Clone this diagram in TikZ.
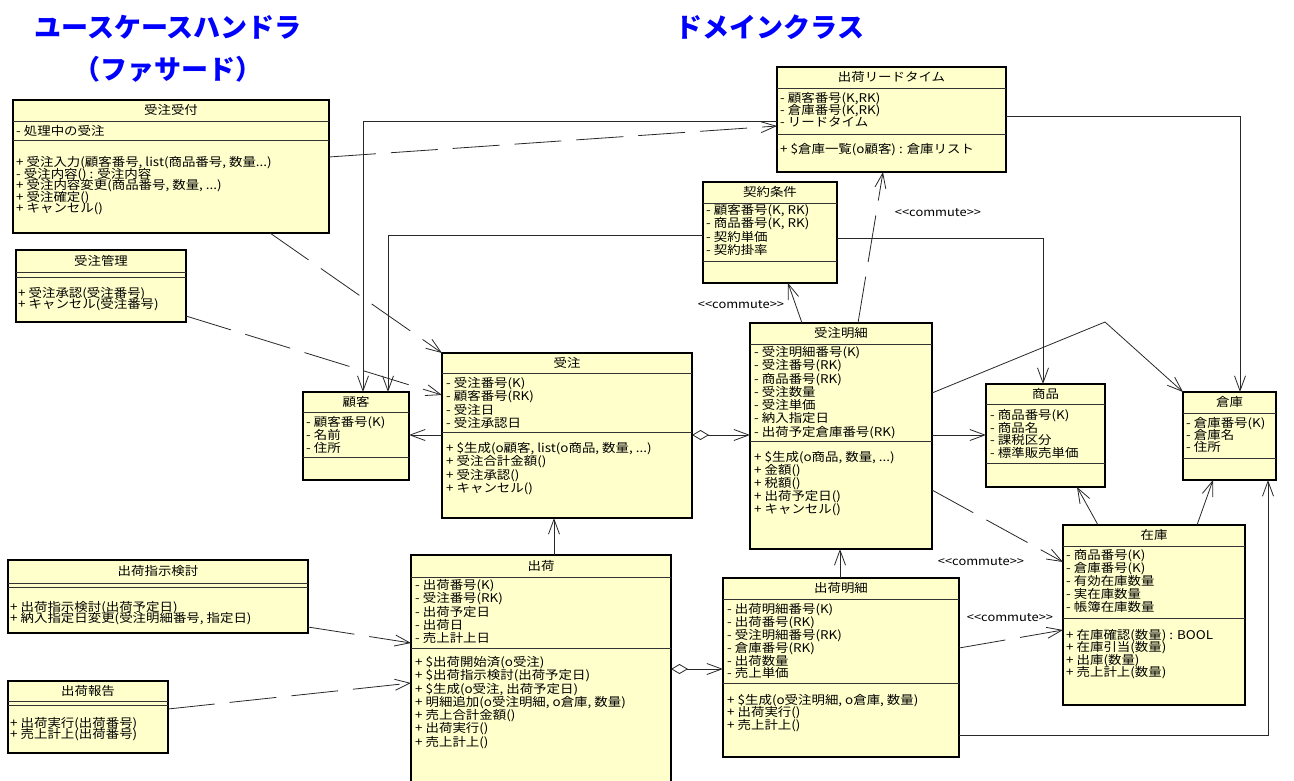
\documentclass[tikz,border=0pt]{standalone}
\usepackage{fontspec}
\setmainfont{Noto Sans CJK JP}
\newfontfamily\boxfont[FakeStretch=1.12]{Noto Sans CJK JP}
\usetikzlibrary{arrows.meta,calc}
\definecolor{boxfill}{RGB}{255,255,204}
\definecolor{titleblue}{RGB}{0,0,255}
\definecolor{lineclr}{RGB}{40,40,40}
\newcommand\tdots{...}

\newcommand\umlbox[8]{%
  \node[classbox, minimum width={(#4-#2)*1pt}, minimum height={(#5-#3)*1pt}] (#1) at (#2,#3) {};
  \draw[divline] (#2,#6) -- (#4,#6);
  \draw[divline] (#2,#7) -- (#4,#7);
  \node[txt, anchor=base] (#1-t) at ({(#2+#4)/2},{(#3+#6)/2+4.4}) {#8};
}
\newcommand\umllines[5]{%
  \foreach \myline [count=\idx] in {#5} {
    \node[txt] (#1\idx) at (#2,{#3+4.4+(\idx-1)*#4}) {\myline};
  }
}

\begin{document}
\begin{tikzpicture}[x=1pt,y=-1pt,
  classbox/.style={draw=black, fill=boxfill, line width=1.2pt, anchor=north west, inner sep=0pt, outer sep=0pt},
  divline/.style={draw=black!80, line width=0.9pt},
  txt/.style={anchor=base west, inner sep=0pt, font=\boxfont\fontsize{12}{13}\selectfont},
  heading/.style={anchor=base, inner sep=0pt, text=titleblue, font=\fontsize{27}{30}\selectfont\bfseries},
  lbl/.style={inner sep=0pt, font=\boxfont\fontsize{11.5}{12}\selectfont},
  tip/.style={-{Straight Barb[length=15pt,width=11pt,line width=0.8pt]}},
  assoc/.style={draw=lineclr, line width=0.8pt, tip},
  dep/.style={assoc, dash pattern=on 47pt off 15pt},
  agg/.style={draw=lineclr, line width=0.8pt, {Diamond[open,length=17pt,width=10pt,line width=0.8pt]}-{Straight Barb[length=15pt,width=11pt,line width=0.8pt]}}
]
\clip (0,0) rectangle (1294,780);
\fill[white] (0,0) rectangle (1294,780);

% headings
\node[heading] (h1) at (168,37) {ユースケースハンドラ};
\node[heading] (h2) at (168,79) {（ファサード）};
\node[heading] (h3) at (770,37) {ドメインクラス};

% use case handlers
\umlbox{uketsuke}{13}{100}{329}{233}{121}{140}{受注受付}
\umllines{uketsuke-a}{16}{131}{12}{{- 処理中の受注}}
\umllines{uketsuke-o}{16}{162}{11.6}{{+ 受注入力(顧客番号, list(商品番号, 数量\tdots)},{- 受注内容() : 受注内容},{+ 受注内容変更(商品番号, 数量, \tdots)},{+ 受注確定()},{+ キャンセル()}}

\umlbox{kanri}{16}{250}{186}{322}{272}{277}{受注管理}
\umllines{kanri-o}{18}{293}{11.3}{{+ 受注承認(受注番号)},{+ キャンセル(受注番号)}}

\umlbox{shiji}{8}{560}{308}{633}{583}{587}{出荷指示検討}
\umllines{shiji-o}{10}{607}{11}{{+ 出荷指示検討(出荷予定日)},{+ 納入指定日変更(受注明細番号, 指定日)}}

\umlbox{hokoku}{8}{681}{168}{753}{701}{705}{出荷報告}
\umllines{hokoku-o}{10}{723}{10.8}{{+ 出荷実行(出荷番号)},{+ 売上計上(出荷番号)}}

% domain classes
\umlbox{leadtime}{777}{67}{1006}{172}{88}{134}{出荷リードタイム}
\umllines{leadtime-a}{780}{98}{12}{{- 顧客番号(K,RK)},{- 倉庫番号(K,RK)},{- リードタイム}}
\umllines{leadtime-o}{780}{149}{12}{{+ \$倉庫一覧(o顧客) : 倉庫リスト}}

\umlbox{keiyaku}{703}{182}{837}{283}{203}{261}{契約条件}
\umllines{keiyaku-a}{706}{210}{13.3}{{- 顧客番号(K, RK)},{- 商品番号(K, RK)},{- 契約単価},{- 契約掛率}}

\umlbox{kokyaku}{303}{392}{409}{480}{412}{457}{顧客}
\umllines{kokyaku-a}{306}{422}{13}{{- 顧客番号(K)},{- 名前},{- 住所}}

\umlbox{juchu}{442}{353}{692}{518}{373}{432}{受注}
\umllines{juchu-a}{446}{383}{13.3}{{- 受注番号(K)},{- 顧客番号(RK)},{- 受注日},{- 受注承認日}}
\umllines{juchu-o}{446}{448}{13.3}{{+ \$生成(o顧客, list(o商品, 数量, \tdots)},{+ 受注合計金額()},{+ 受注承認()},{+ キャンセル()}}

\umlbox{meisai}{750}{323}{932}{549}{344}{441}{受注明細}
\umllines{meisai-a}{754}{352}{13.3}{{- 受注明細番号(K)},{- 受注番号(RK)},{- 商品番号(RK)},{- 受注数量},{- 受注単価},{- 納入指定日},{- 出荷予定倉庫番号(RK)}}
\umllines{meisai-o}{754}{457}{13}{{+ \$生成(o商品, 数量, \tdots)},{+ 金額()},{+ 税額()},{+ 出荷予定日()},{+ キャンセル()}}

\umlbox{shohin}{986}{384}{1105}{487}{404}{463}{商品}
\umllines{shohin-a}{990}{415}{12.7}{{- 商品番号(K)},{- 商品名},{- 課税区分},{- 標準販売単価}}

\umlbox{soko}{1183}{392}{1276}{480}{413}{458}{倉庫}
\umllines{soko-a}{1186}{423}{12}{{- 倉庫番号(K)},{- 倉庫名},{- 住所}}

\umlbox{zaiko}{1063}{525}{1245}{705}{546}{618}{在庫}
\umllines{zaiko-a}{1066}{555}{13}{{- 商品番号(K)},{- 倉庫番号(K)},{- 有効在庫数量},{- 実在庫数量},{- 帳簿在庫数量}}
\umllines{zaiko-o}{1066}{635}{12.5}{{+ 在庫確認(数量) : BOOL},{+ 在庫引当(数量)},{+ 出庫(数量)},{+ 売上計上(数量)}}

\umlbox{shukka}{411}{555}{671}{800}{577}{648}{出荷}
\umllines{shukka-a}{415}{585}{13.3}{{- 出荷番号(K)},{- 受注番号(RK)},{- 出荷予定日},{- 出荷日},{- 売上計上日}}
\umllines{shukka-o}{415}{662}{13.3}{{+ \$出荷開始済(o受注)},{+ \$出荷指示検討(出荷予定日)},{+ \$生成(o受注, 出荷予定日)},{+ 明細追加(o受注明細, o倉庫, 数量)},{+ 売上合計金額()},{+ 出荷実行()},{+ 売上計上()}}

\umlbox{smeisai}{723}{578}{959}{757}{599}{683}{出荷明細}
\umllines{smeisai-a}{727}{609}{12.9}{{- 出荷明細番号(K)},{- 出荷番号(RK)},{- 受注明細番号(RK)},{- 倉庫番号(RK)},{- 出荷数量},{- 売上単価}}
\umllines{smeisai-o}{727}{700}{12.5}{{+ \$生成(o受注明細, o倉庫, 数量)},{+ 出荷実行()},{+ 売上計上()}}

% connectors
\coordinate (bend1) at (1105,322);
\draw[dep] (uketsuke.east |- 0,157) -- (leadtime.west |- 0,126);
\draw[assoc] (leadtime.west |- 0,121) -| (kokyaku.north -| 363,0);
\draw[assoc] (keiyaku.west |- 0,235) -| (kokyaku.north -| 388,0);
\draw[dep] (uketsuke.south -| 270,0) -- (juchu.north west);
\draw[dep] (kanri.east |- 0,316) -- (juchu.west |- 0,395);
\draw[assoc] (juchu.west |- 0,435) -- (kokyaku.east |- 0,435);
\draw[agg] (juchu.east |- 0,435) -- (meisai.west |- 0,435);
\draw[assoc] (meisai.east |- 0,435) -- (shohin.west |- 0,435);
\draw[assoc] (meisai.north -| 802,0) -- (keiyaku.south -| 788,0);
\draw[dep] (meisai.north -| 858,0) -- (leadtime.south -| 883,0);
\draw[assoc] (leadtime.east |- 0,116) -| (soko.north -| 1240,0);
\draw[assoc] (keiyaku.east |- 0,238) -| (shohin.north -| 1043,0);
\draw[assoc] (meisai.east |- 0,393) -- (bend1) -- (soko.north west);
\draw[dep] (meisai.east |- 0,490) -- (zaiko.west |- 0,562);
\draw[dep] (smeisai.east |- 0,648) -- (zaiko.west |- 0,630);
\draw[assoc] (zaiko.north -| 1098,0) -- (shohin.south -| 1077,0);
\draw[assoc] (zaiko.north -| 1197,0) -- (soko.south -| 1213,0);
\draw[assoc] (smeisai.east |- 0,735) -| (soko.south -| 1268,0);
\draw[assoc] (smeisai.north -| 840,0) -- (meisai.south -| 840,0);
\draw[assoc] (shukka.north -| 554,0) -- (juchu.south -| 554,0);
\draw[agg] (shukka.east |- 0,669) -- (smeisai.west |- 0,669);
\draw[dep] (shiji.east |- 0,627) -- (shukka.west |- 0,643);
\draw[dep] (hokoku.east |- 0,709) -- (shukka.west |- 0,683);

% stereotype labels
\node[lbl] (c1) at (741,305) {<{}<commute>{}>};
\node[lbl] (c2) at (938,213) {<{}<commute>{}>};
\node[lbl] (c3) at (981,562) {<{}<commute>{}>};
\node[lbl] (c4) at (1010,618) {<{}<commute>{}>};
\end{tikzpicture}
\end{document}
